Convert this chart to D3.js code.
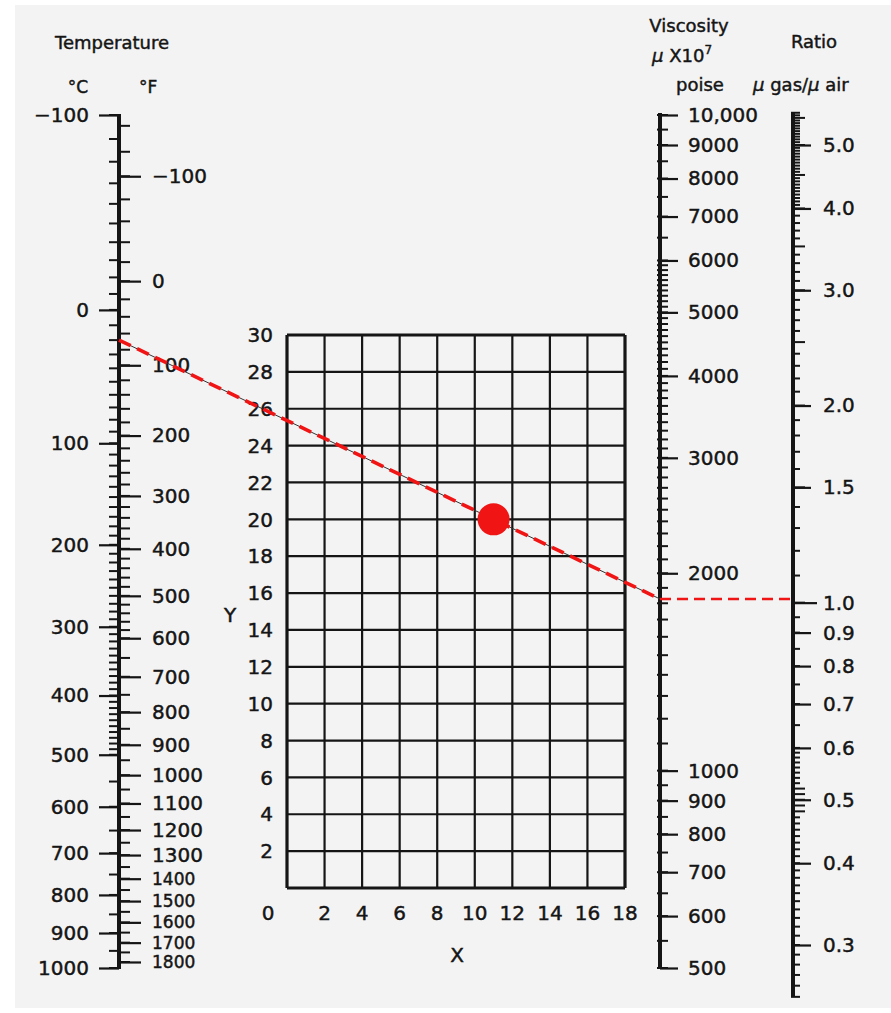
<!DOCTYPE html>
<html>
<head>
<meta charset="utf-8">
<script src="https://cdn.jsdelivr.net/npm/d3@7"></script>
<style>
  body { margin: 0; background: #fff; }
  text { font-family: "DejaVu Sans", sans-serif; fill: #151515; stroke: #151515; stroke-width: 0.45px; }
</style>
</head>
<body>
<script>
var celsiusLabels = [-100, 0, 100, 200, 300, 400, 500, 600, 700, 800, 900, 1000]
var fahrenheitLabels = [-100, 0, 100, 200, 300, 400, 500, 600, 700, 800, 900, 1000,
    1100, 1200, 1300, 1400, 1500, 1600, 1700, 1800]
var gridX = [0, 2, 4, 6, 8, 10, 12, 14, 16, 18]
var gridY = [0, 2, 4, 6, 8, 10, 12, 14, 16, 18, 20, 22, 24, 26, 28, 30]
var viscLabels = [500, 600, 700, 800, 900, 1000, 2000, 3000, 4000, 5000, 6000, 7000, 8000, 9000, 10000]
var ratioLabels = [0.3, 0.4, 0.5, 0.6, 0.7, 0.8, 0.9, 1.0, 1.5, 2.0, 3.0, 4.0, 5.0]

// worked example: gas at 20 C, point X=11, Y=20
var exampleTempC = 20
var examplePoint = {x: 11, y: 20}

var svg = d3.select('body').append('svg')
    .attr('width', 891)
    .attr('height', 1013)

svg.append('rect')
    .attr('x', 15).attr('y', 5)
    .attr('width', 876).attr('height', 1003)
    .attr('fill', '#f3f3f3')

// temperature scale is logarithmic in absolute temperature
var tK = d3.scaleLog().domain([173.15, 1273.15]).range([115, 968])
function cK(c) { return c + 273.15 }
function fK(f) { return (f - 32) * 5 / 9 + 273.15 }
function lbl(d) { return d < 0 ? '\u2212' + Math.abs(d) : String(d) }

var tAxisX = 119
var tg = svg.append('g').attr('transform', 'translate(' + tAxisX + ',0)')

// minor ticks, celsius on the left, fahrenheit on the right
var cMinor = d3.range(-100, 500, 10).concat(d3.range(500, 1001, 50))
var fMinor = d3.range(-140, 600, 20).concat(d3.range(600, 1801, 50))

tg.selectAll('.cmin')
    .data(cMinor)
    .enter()
    .append('line')
    .attr('x1', -10).attr('x2', 0)
    .attr('y1', function(d) { return tK(cK(d)) })
    .attr('y2', function(d) { return tK(cK(d)) })
    .attr('stroke', '#151515').attr('stroke-width', 2)

tg.selectAll('.fmin')
    .data(fMinor)
    .enter()
    .append('line')
    .attr('x1', 0).attr('x2', 11)
    .attr('y1', function(d) { return tK(fK(d)) })
    .attr('y2', function(d) { return tK(fK(d)) })
    .attr('stroke', '#151515').attr('stroke-width', 2)

var cAxis = d3.axisLeft(tK)
    .tickValues(celsiusLabels.map(cK))
    .tickFormat(function(d, i) { return lbl(celsiusLabels[i]) })
    .tickSize(20).tickPadding(10)
var fAxis = d3.axisRight(tK)
    .tickValues(fahrenheitLabels.map(fK))
    .tickFormat(function(d, i) { return lbl(fahrenheitLabels[i]) })
    .tickSize(22).tickPadding(11)

function styleAxis(g) {
    g.select('.domain').remove()
    g.selectAll('.tick line').attr('stroke', '#151515').attr('stroke-width', 2.2)
    g.selectAll('.tick text').attr('font-size', 20).attr('font-family', 'DejaVu Sans').attr('fill', '#151515')
}
tg.append('g').call(cAxis).call(styleAxis)
tg.append('g').call(fAxis).call(styleAxis)
    .selectAll('.tick text')
    .attr('font-size', function(d, i) { return fahrenheitLabels[i] >= 1400 ? 17 : 20 })

tg.append('line')
    .attr('x1', 0).attr('x2', 0)
    .attr('y1', tK(cK(-100)) - 1).attr('y2', tK(cK(1000)) + 1)
    .attr('stroke', '#151515').attr('stroke-width', 4)

svg.append('text').attr('x', 55).attr('y', 49).attr('font-size', 18).text('Temperature')
svg.append('text').attr('x', 88).attr('y', 93).attr('font-size', 17).attr('text-anchor', 'end').text('\u00b0C')
svg.append('text').attr('x', 139).attr('y', 93).attr('font-size', 17).text('\u00b0F')

// X-Y grid
var gx = d3.scaleLinear().domain([0, 18]).range([287, 625])
var gy = d3.scaleLinear().domain([0, 30]).range([888, 335])
var grid = svg.append('g')

grid.selectAll('.vx')
    .data(gridX)
    .enter()
    .append('line')
    .attr('x1', function(d) { return gx(d) })
    .attr('x2', function(d) { return gx(d) })
    .attr('y1', gy(0)).attr('y2', gy(30))
    .attr('stroke', '#151515')
    .attr('stroke-width', function(d) { return d == 0 || d == 18 ? 3.2 : 2.2 })

grid.selectAll('.hy')
    .data(gridY)
    .enter()
    .append('line')
    .attr('y1', function(d) { return gy(d) })
    .attr('y2', function(d) { return gy(d) })
    .attr('x1', gx(0)).attr('x2', gx(18))
    .attr('stroke', '#151515')
    .attr('stroke-width', function(d) { return d == 0 || d == 30 ? 3.2 : 2.2 })

grid.selectAll('.ylab')
    .data(gridY.filter(function(d) { return d > 0 }))
    .enter()
    .append('text')
    .attr('x', gx(0) - 14)
    .attr('y', function(d) { return gy(d) })
    .attr('dy', '0.36em')
    .attr('text-anchor', 'end')
    .attr('font-size', 20)
    .text(function(d) { return d })

grid.selectAll('.xlab')
    .data(gridX)
    .enter()
    .append('text')
    .attr('x', function(d) { return d == 0 ? gx(d) - 19 : gx(d) })
    .attr('y', gy(0) + 32)
    .attr('text-anchor', 'middle')
    .attr('font-size', 20)
    .text(function(d) { return d })

svg.append('text').attr('x', 230).attr('y', 622).attr('font-size', 20).attr('text-anchor', 'middle').text('Y')
svg.append('text').attr('x', 457).attr('y', 962).attr('font-size', 20).attr('text-anchor', 'middle').text('X')

// viscosity scale
var v = d3.scaleLog().domain([500, 10000]).range([968, 115])
var vAxisX = 660
var vg = svg.append('g').attr('transform', 'translate(' + vAxisX + ',0)')
var vMinor = d3.range(500, 1000, 50).concat(d3.range(1000, 6000, 100), d3.range(6000, 10001, 500))

vg.selectAll('.vmin')
    .data(vMinor)
    .enter()
    .append('line')
    .attr('x1', -3).attr('x2', 8)
    .attr('y1', function(d) { return v(d) })
    .attr('y2', function(d) { return v(d) })
    .attr('stroke', '#151515').attr('stroke-width', 2)

vg.append('g')
    .call(d3.axisRight(v)
        .tickValues(viscLabels)
        .tickFormat(function(d) { return d == 10000 ? '10,000' : String(d) })
        .tickSize(18).tickPadding(10))
    .call(styleAxis)

vg.append('line')
    .attr('x1', 0).attr('x2', 0)
    .attr('y1', v(10000) - 2).attr('y2', v(500) + 1)
    .attr('stroke', '#151515').attr('stroke-width', 4)

svg.append('text').attr('x', 689).attr('y', 32).attr('font-size', 18).attr('text-anchor', 'middle').text('Viscosity')
var mu = svg.append('text').attr('x', 682).attr('y', 62).attr('font-size', 18).attr('text-anchor', 'middle')
mu.append('tspan').attr('font-style', 'italic').text('\u03bc')
mu.append('tspan').text(' X10')
mu.append('tspan').attr('font-size', 12).attr('dy', -8).text('7')
svg.append('text').attr('x', 700).attr('y', 91).attr('font-size', 18).attr('text-anchor', 'middle').text('poise')

// ratio scale, same log modulus as viscosity
var r = d3.scaleLog().domain([0.3, 5]).range([945, 145])
var rAxisX = 793
var rg = svg.append('g').attr('transform', 'translate(' + rAxisX + ',0)')
var rMinor = d3.range(25, 60, 1).map(function(d) { return d / 100 })
    .concat(d3.range(60, 100, 5).map(function(d) { return d / 100 }))
    .concat(d3.range(10, 40, 1).map(function(d) { return d / 10 }))
    .concat(d3.range(80, 113, 1).map(function(d) { return d / 20 }))

rg.selectAll('.rmin')
    .data(rMinor)
    .enter()
    .append('line')
    .attr('x1', -2)
    .attr('x2', function(d) { return Math.round(d * 20) % 10 == 0 ? 12 : 7 })
    .attr('y1', function(d) { return r(d) })
    .attr('y2', function(d) { return r(d) })
    .attr('stroke', '#151515').attr('stroke-width', 2)

rg.append('g')
    .call(d3.axisRight(r)
        .tickValues(ratioLabels)
        .tickFormat(d3.format('.1f'))
        .tickSize(18).tickPadding(12))
    .call(styleAxis)
    .selectAll('.tick line')
    .attr('x2', function(d) { return d == 1 ? 24 : 18 })

rg.append('line')
    .attr('x1', 0).attr('x2', 0)
    .attr('y1', r(5.6)).attr('y2', r(0.25))
    .attr('stroke', '#151515').attr('stroke-width', 4)

svg.append('text').attr('x', 814).attr('y', 48).attr('font-size', 18).attr('text-anchor', 'middle').text('Ratio')
var rt = svg.append('text').attr('x', 753).attr('y', 91).attr('font-size', 18)
rt.append('tspan').attr('font-style', 'italic').text('\u03bc')
rt.append('tspan').text(' gas/')
rt.append('tspan').attr('font-style', 'italic').text('\u03bc')
rt.append('tspan').text(' air')

// example line: temperature -> grid point -> viscosity, then across to ratio
var p0 = [tAxisX, tK(cK(exampleTempC))]
var p1 = [gx(examplePoint.x), gy(examplePoint.y)]
var yv = p0[1] + (p1[1] - p0[1]) * (vAxisX - p0[0]) / (p1[0] - p0[0])
var path1 = [p0, [vAxisX, yv]]
var path2 = [[vAxisX, yv], [rAxisX, yv]]
var line = d3.line()

svg.append('path').attr('d', line(path1)).attr('fill', 'none')
    .attr('stroke', '#333').attr('stroke-width', 1)
svg.append('path').attr('d', line(path1)).attr('fill', 'none')
    .attr('stroke', '#f01414').attr('stroke-width', 3.6)
    .attr('stroke-dasharray', '13,7')
svg.append('path').attr('d', line(path2)).attr('fill', 'none')
    .attr('stroke', '#f01414').attr('stroke-width', 2.6)
    .attr('stroke-dasharray', '11,6')

svg.append('circle')
    .attr('cx', p1[0]).attr('cy', p1[1]).attr('r', 16)
    .attr('fill', '#f01414')
</script>
</body>
</html>
